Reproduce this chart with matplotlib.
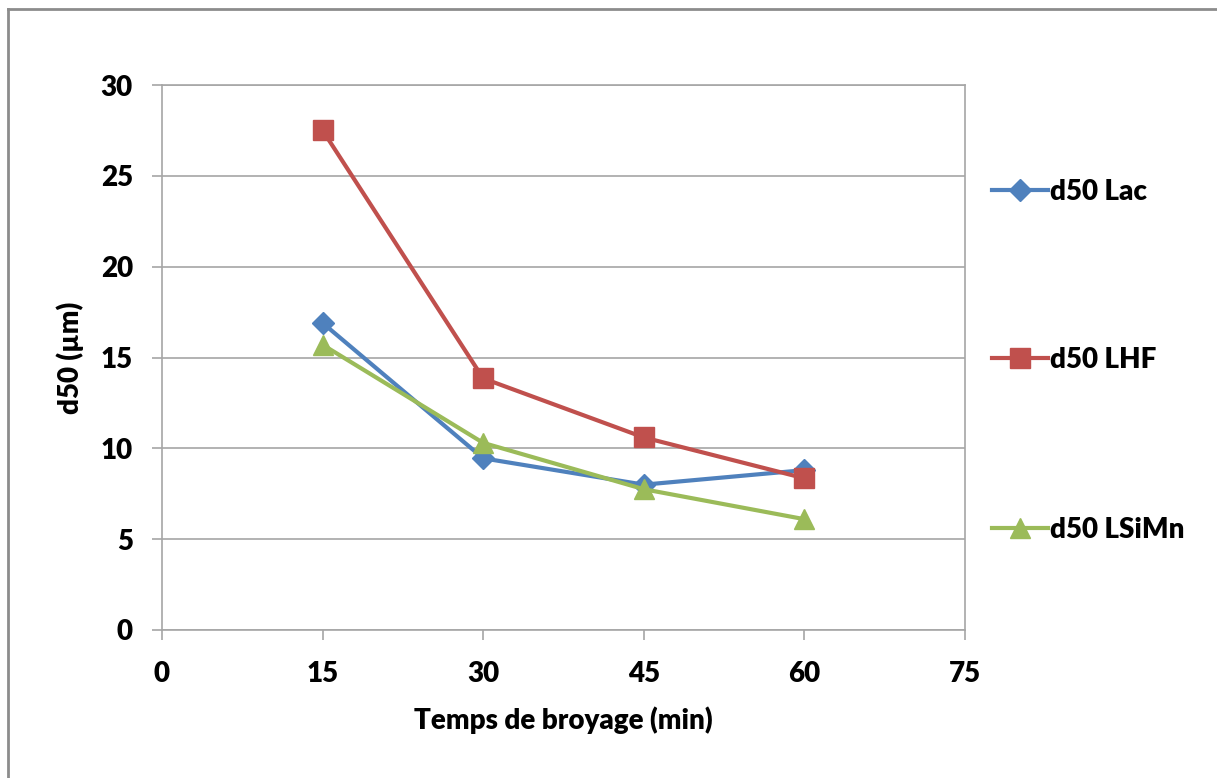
import matplotlib.pyplot as plt
from matplotlib.lines import Line2D

# ---------------------------------
# Data
# ---------------------------------

temps = [15, 30, 45, 60]

d50_lac = [16.9, 9.45, 8.0, 8.8]
d50_lhf = [27.5, 13.85, 10.6, 8.35]
d50_lsimn = [15.7, 10.3, 7.75, 6.1]

x_ticks = [0, 15, 30, 45, 60, 75]
y_ticks = [0, 5, 10, 15, 20, 25, 30]

labels = ["d50 Lac", "d50 LHF", "d50 LSiMn"]

plt.rcParams["font.family"] = ["Lato", "DejaVu Sans"]
plt.rcParams["font.weight"] = "heavy"

# ---------------------------------
# Figure
# ---------------------------------

fig = plt.figure(figsize=(12.17, 7.78), dpi=100)
W, H = 1217, 778

ax = fig.add_axes([162 / W, 1 - 630 / H, (965 - 162) / W, (630 - 85) / H])

l1, = ax.plot(temps, d50_lac, color="#4F81BD", lw=3,
              marker="D", markersize=11, label=labels[0])
l2, = ax.plot(temps, d50_lhf, color="#C0504D", lw=3,
              marker="s", markersize=14, label=labels[1])
l3, = ax.plot(temps, d50_lsimn, color="#9BBB59", lw=3,
              marker="^", markersize=15, label=labels[2])

ax.set_xlim(0, 75)
ax.set_ylim(0, 30)
ax.set_xticks(x_ticks)
ax.set_yticks(y_ticks)

ax.grid(True, axis="y", color="#a6a6a6", lw=1.2)
ax.set_axisbelow(True)

for s in ax.spines.values():
    s.set_color("#a6a6a6")
    s.set_linewidth(1.2)

ax.tick_params(axis="both", colors="#a6a6a6", labelcolor="black",
               labelsize=20, length=7, width=1.2)
ax.tick_params(axis="x", pad=15)
ax.tick_params(axis="y", pad=14)

ax.set_xlabel("Temps de broyage (min)", fontsize=20, fontweight="heavy",
              labelpad=14)
ax.set_ylabel("d50 (µm)", fontsize=20, fontweight="heavy", labelpad=12)

# ---------------------------------
# Legend
# ---------------------------------

for line, yp in zip([l1, l2, l3], [192, 360, 530]):
    h = Line2D([0], [0], color=line.get_color(), lw=3,
               marker=line.get_marker(), markersize=line.get_markersize())
    fig.legend([h], [line.get_label()], loc="center left",
               bbox_to_anchor=(992 / W, 1 - yp / H), frameon=False,
               fontsize=20, handlelength=2.0, handletextpad=0.1,
               borderpad=0, borderaxespad=0)

# Outer frame (left and top)
fig.add_artist(Line2D([8 / W, 8 / W], [0, 1 - 9 / H], color="#8c8c8c", lw=2))
fig.add_artist(Line2D([8 / W, 1], [1 - 9 / H, 1 - 9 / H], color="#8c8c8c", lw=2))

plt.savefig("out.png", dpi=100)
